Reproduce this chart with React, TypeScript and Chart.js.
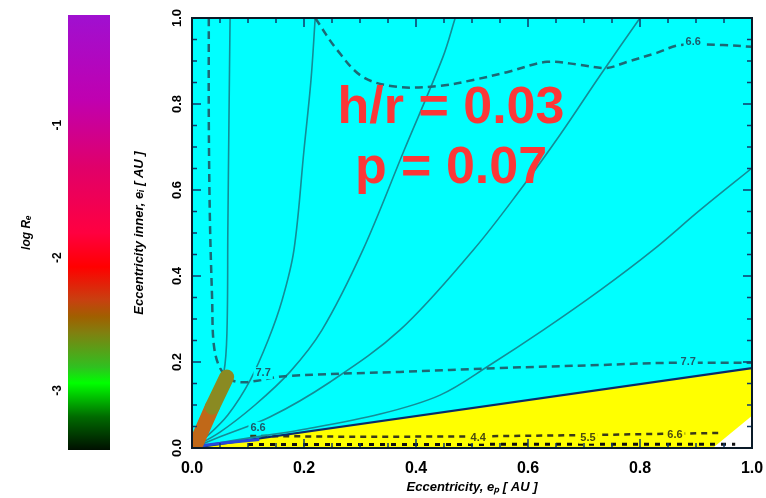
import { useEffect, useRef } from 'react';
import { Chart, registerables } from 'chart.js';

Chart.register(...registerables);

const FONT = '"Liberation Sans", Arial, sans-serif';

// ---- axes ----
const xTickValues = [0, 0.2, 0.4, 0.6, 0.8, 1.0];
const xTickLabels = ['0.0', '0.2', '0.4', '0.6', '0.8', '1.0'];
const yTickValues = [0, 0.2, 0.4, 0.6, 0.8, 1.0];
const yTickLabels = ['0.0', '0.2', '0.4', '0.6', '0.8', '1.0'];
const xTitle = 'Eccentricity, e\u209A [ AU ]';
const yTitle = 'Eccentricity inner, e\u1D62 [ AU ]';

// ---- colour bar ----
const cbarMin = 0.55;
const cbarMax = 3.83;
const cbarTickValues = [1, 2, 3];
const cbarTickLabels = ['-3', '-2', '-1'];
const cbarTitle = 'log R\u2091';

// ---- regions ----
const cyanTop = [[0, 1], [1, 1]];
const boundaryEdge = [[0, 0], [1, 0.186]];
const whiteCorner = [[0.93, 0], [1, 0.075]];

// ---- solid contours (fan from the origin) ----
const solidC1 = [[0, 0], [0.018, 0.037], [0.039, 0.1], [0.057, 0.177], [0.0625, 0.274], [0.064, 0.507], [0.066, 0.763], [0.068, 1.0]];
const solidC2 = [[0, 0], [0.023, 0.023], [0.064, 0.077], [0.104, 0.158], [0.136, 0.251], [0.161, 0.344], [0.182, 0.46], [0.2, 0.693], [0.2125, 0.856], [0.22, 1.0]];
const solidC3 = [[0, 0], [0.05, 0.037], [0.1125, 0.1], [0.175, 0.177], [0.232, 0.274], [0.305, 0.46], [0.379, 0.693], [0.448, 0.909], [0.47, 1.0]];
const solidC4 = [[0, 0], [0.05, 0.026], [0.139, 0.072], [0.246, 0.153], [0.371, 0.274], [0.502, 0.46], [0.586, 0.6], [0.657, 0.728], [0.729, 0.867], [0.8, 1.0]];
const solidC5 = [[0, 0], [0.086, 0.02], [0.193, 0.042], [0.336, 0.079], [0.443, 0.123], [0.532, 0.193], [0.627, 0.274], [0.729, 0.367], [0.823, 0.46], [0.907, 0.553], [1.0, 0.651]];

// ---- dashed contours ----
const dashed77 = [[0.03, 1.0], [0.03, 0.763], [0.032, 0.53], [0.036, 0.344], [0.039, 0.24], [0.05, 0.186], [0.071, 0.158], [0.096, 0.153], [0.166, 0.167], [0.371, 0.177], [0.55, 0.186], [0.729, 0.193], [0.845, 0.198], [1.0, 0.198]];
const dashed66 = [[0.22, 1.0], [0.259, 0.926], [0.305, 0.863], [0.366, 0.84], [0.443, 0.842], [0.502, 0.856], [0.5625, 0.874], [0.634, 0.898], [0.693, 0.891], [0.741, 0.884], [0.777, 0.898], [0.83, 0.919], [0.871, 0.937], [0.948, 0.937], [1.0, 0.933]];
const bottomDashA = [[0.104, 0.028], [0.3, 0.026], [0.5, 0.027], [0.7, 0.03], [0.94, 0.035]];
const bottomDashB = [[0.1, 0.008], [0.4, 0.008], [0.7, 0.009], [0.97, 0.009]];

// ---- features near the origin ----
const diskStreak = [[0, 0.003], [0.06, 0.012], [0.12, 0.02]];
const blobTrack = [[0.008, 0.012], [0.036, 0.095], [0.062, 0.165]];

// ---- contour labels ----
const contourLabelText = ['7.7', '7.7', '6.6', '6.6', '4.4', '5.5', '6.6'];
const contourLabelX = [0.127, 0.886, 0.895, 0.118, 0.511, 0.707, 0.8625];
const contourLabelY = [0.174, 0.2, 0.944, 0.047, 0.024, 0.024, 0.03];

// ---- annotation ----
const noteLines = ['h/r = 0.03', 'p = 0.07'];
const noteX = 0.4625;
const noteY = [0.756, 0.616];

// colour bar gradient, bottom (0) to top (1)
const cbarStops: [number, string][] = [
  [0, '#001000'], [0.076, '#006a00'], [0.154, '#00ff00'], [0.191, '#30c020'],
  [0.269, '#808010'], [0.306, '#a06000'], [0.345, '#c84010'], [0.421, '#ff0000'],
  [0.499, '#ff0040'], [0.651, '#e0006a'], [0.805, '#c000b0'], [1, '#a010d0'],
];

const pts = (arr: number[][]) => arr.map(([x, y]) => ({ x, y }));

const SOLID = '#148c96';
const DASHED = '#1d6874';

function line(data: number[][], color: string, width: number, order: number, extra: any = {}) {
  return {
    data: pts(data),
    borderColor: color,
    borderWidth: width,
    pointRadius: 0,
    tension: 0.35,
    fill: false,
    order,
    ...extra,
  };
}

function region(data: number[][], color: string, order: number) {
  return {
    data: pts(data),
    borderWidth: 0,
    borderColor: 'rgba(0,0,0,0)',
    backgroundColor: color,
    pointRadius: 0,
    tension: 0,
    fill: 'origin',
    order,
  };
}

const framePlugin = {
  id: 'frame',
  afterDatasetsDraw(chart: any) {
    const { ctx, chartArea: a, scales } = chart;
    const xs = scales.x;
    const ys = scales.y;
    ctx.save();

    // contour labels
    ctx.font = `bold 11px ${FONT}`;
    ctx.textAlign = 'center';
    ctx.textBaseline = 'middle';
    contourLabelText.forEach((t, i) => {
      const px = xs.getPixelForValue(contourLabelX[i]);
      const py = ys.getPixelForValue(contourLabelY[i]);
      const inYellow = contourLabelY[i] < boundaryEdge[1][1] * contourLabelX[i];
      const w = ctx.measureText(t).width + 4;
      ctx.fillStyle = inYellow ? '#ffff00' : '#00ffff';
      ctx.fillRect(px - w / 2, py - 6, w, 12);
      ctx.fillStyle = inYellow ? '#4a4a10' : '#1d5a6a';
      ctx.fillText(t, px, py);
    });

    // inward ticks on all four sides
    ctx.strokeStyle = '#123a6a';
    ctx.lineWidth = 1.5;
    for (let k = 0; k <= 20; k++) {
      const v = k * 0.05;
      const len = k % 4 === 0 ? 9 : 5;
      const px = xs.getPixelForValue(v);
      const py = ys.getPixelForValue(v);
      ctx.beginPath();
      ctx.moveTo(px, a.bottom); ctx.lineTo(px, a.bottom - len);
      ctx.moveTo(px, a.top); ctx.lineTo(px, a.top + len);
      ctx.moveTo(a.left, py); ctx.lineTo(a.left + len, py);
      ctx.moveTo(a.right, py); ctx.lineTo(a.right - len, py);
      ctx.stroke();
    }

    // frame
    ctx.strokeStyle = '#0a1a28';
    ctx.lineWidth = 2;
    ctx.strokeRect(a.left, a.top, a.right - a.left, a.bottom - a.top);

    // annotation
    ctx.font = `bold 52px ${FONT}`;
    ctx.fillStyle = '#fb3737';
    ctx.textAlign = 'center';
    ctx.textBaseline = 'alphabetic';
    noteLines.forEach((t, i) => {
      ctx.fillText(t, xs.getPixelForValue(noteX), ys.getPixelForValue(noteY[i]));
    });

    ctx.restore();
  },
};

function mainConfig(): any {
  const tickFont = { family: FONT, weight: 'bold' as const };
  return {
    type: 'line',
    data: {
      datasets: [
        line(blobTrack, '#c06818', 15, 10, {
          tension: 0,
          borderCapStyle: 'round',
          segment: { borderColor: (c: any) => (c.p0DataIndex === 0 ? '#c06818' : '#8a8a22') },
        }),
        line(diskStreak, '#2848d8', 3, 20, { tension: 0 }),
        line(dashed77, DASHED, 2.5, 40, { borderDash: [8, 5] }),
        line(dashed66, DASHED, 2.5, 40, { borderDash: [8, 5] }),
        line(solidC1, SOLID, 1.6, 50),
        line(solidC2, SOLID, 1.6, 50),
        line(solidC3, SOLID, 1.6, 50),
        line(solidC4, SOLID, 1.6, 50),
        line(solidC5, SOLID, 1.6, 50),
        line(boundaryEdge, '#0a2a6a', 2.2, 60, { tension: 0 }),
        line(bottomDashA, '#3a3a18', 2.5, 70, { borderDash: [6, 5], tension: 0 }),
        line(bottomDashB, '#111111', 3, 70, { borderDash: [5, 6], tension: 0 }),
        region(whiteCorner, '#ffffff', 85),
        region(boundaryEdge, '#ffff00', 90),
        region(cyanTop, '#00ffff', 100),
      ],
    },
    options: {
      responsive: false,
      animation: false,
      layout: { padding: { left: 132, right: 14, top: 18, bottom: 0 } },
      plugins: { legend: { display: false }, tooltip: { enabled: false } },
      scales: {
        x: {
          type: 'linear',
          min: 0,
          max: 1,
          afterBuildTicks: (s: any) => { s.ticks = xTickValues.map((value) => ({ value })); },
          afterFit: (s: any) => {
            s.height = 50;
            s.paddingLeft = 0;
            s.paddingRight = 0;
          },
          ticks: {
            callback: (_v: any, i: number) => xTickLabels[i],
            font: { ...tickFont, size: 16 },
            color: '#000',
            padding: 11,
            maxRotation: 0,
            minRotation: 0,
          },
          grid: { display: false, drawTicks: false },
          border: { display: false },
          title: {
            display: true,
            text: xTitle,
            color: '#000',
            font: { family: FONT, size: 13, weight: 'bold', style: 'italic' },
            padding: { top: 0, bottom: 3 },
          },
        },
        y: {
          type: 'linear',
          min: 0,
          max: 1,
          afterBuildTicks: (s: any) => { s.ticks = yTickValues.map((value) => ({ value })); },
          afterFit: (s: any) => {
            s.width = 60;
            s.paddingTop = 0;
            s.paddingBottom = 0;
          },
          ticks: {
            callback: (_v: any, i: number) => yTickLabels[i],
            font: { ...tickFont, size: 13 },
            color: '#000',
            padding: 6,
            minRotation: 90,
            maxRotation: 90,
            crossAlign: 'center',
          },
          grid: { display: false, drawTicks: false },
          border: { display: false },
          title: {
            display: true,
            text: yTitle,
            color: '#000',
            font: { family: FONT, size: 13, weight: 'bold', style: 'italic' },
            padding: { top: 0, bottom: 0 },
          },
        },
      },
    },
    plugins: [framePlugin],
  };
}

function barConfig(): any {
  return {
    type: 'bar',
    data: {
      labels: [''],
      datasets: [
        {
          data: [[cbarMin, cbarMax]],
          barPercentage: 1,
          categoryPercentage: 1,
          borderWidth: 0,
          backgroundColor: (c: any) => {
            const a = c.chart.chartArea;
            if (!a) return cbarStops[0][1];
            const g = c.chart.ctx.createLinearGradient(0, a.bottom, 0, a.top);
            cbarStops.forEach(([p, col]) => g.addColorStop(p, col));
            return g;
          },
        },
      ],
    },
    options: {
      responsive: false,
      animation: false,
      layout: { padding: { left: 19, right: 10, top: 15, bottom: 48 } },
      plugins: { legend: { display: false }, tooltip: { enabled: false } },
      scales: {
        x: { display: false },
        y: {
          min: cbarMin,
          max: cbarMax,
          afterBuildTicks: (s: any) => { s.ticks = cbarTickValues.map((value) => ({ value })); },
          afterFit: (s: any) => { s.width = 49; },
          ticks: {
            callback: (_v: any, i: number) => cbarTickLabels[i],
            font: { family: FONT, size: 12, weight: 'bold' },
            color: '#000',
            padding: 5,
            minRotation: 90,
            maxRotation: 90,
            crossAlign: 'center',
          },
          grid: { display: false, drawTicks: false },
          border: { display: false },
          title: {
            display: true,
            text: cbarTitle,
            color: '#000',
            font: { family: FONT, size: 12, weight: 'bold', style: 'italic' },
            padding: { top: 0, bottom: 0 },
          },
        },
      },
    },
  };
}

export default function App() {
  const mainRef = useRef<HTMLCanvasElement>(null);
  const barRef = useRef<HTMLCanvasElement>(null);

  useEffect(() => {
    const main = new Chart(mainRef.current as HTMLCanvasElement, mainConfig());
    const bar = new Chart(barRef.current as HTMLCanvasElement, barConfig());
    return () => {
      main.destroy();
      bar.destroy();
    };
  }, []);

  return (
    <div style={{ position: 'fixed', left: 0, top: 0, width: 766, height: 498, background: '#ffffff' }}>
      <canvas ref={barRef} width={120} height={498} style={{ position: 'absolute', left: 0, top: 0 }} />
      <canvas ref={mainRef} width={766} height={498} style={{ position: 'absolute', left: 0, top: 0 }} />
    </div>
  );
}
